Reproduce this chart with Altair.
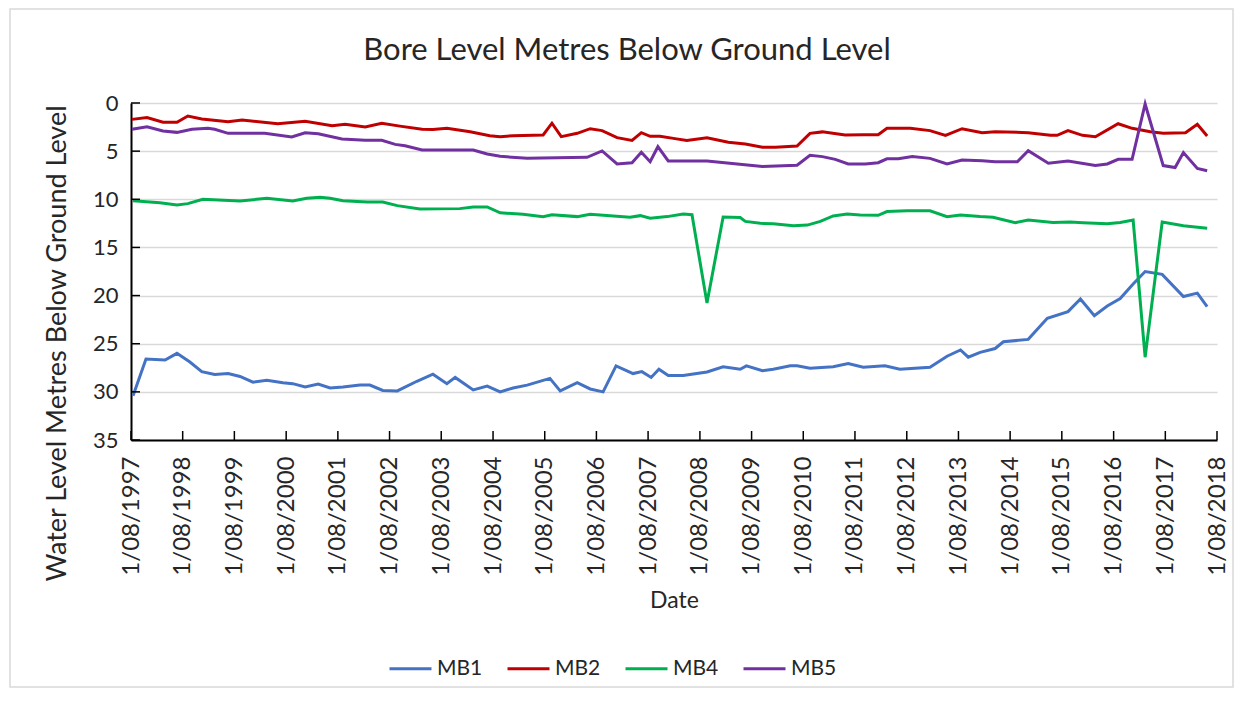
import altair as alt
import pandas as pd

# ---- data (decimal years, metres below ground level) ----
mb1_t = [1997.62, 1997.87, 1998.24, 1998.47, 1998.72, 1998.95, 1999.20, 1999.46, 1999.69, 1999.94,
         2000.21, 2000.52, 2000.71, 2000.95, 2001.20, 2001.43, 2001.68, 2002.01, 2002.20, 2002.45,
         2002.73, 2003.11, 2003.42, 2003.69, 2003.85, 2004.20, 2004.47, 2004.72, 2004.97, 2005.24,
         2005.68, 2005.88, 2006.21, 2006.46, 2006.71, 2006.96, 2007.29, 2007.46, 2007.64, 2007.79,
         2007.97, 2008.26, 2008.72, 2009.03, 2009.36, 2009.48, 2009.79, 2010.00, 2010.33, 2010.46,
         2010.71, 2011.16, 2011.45, 2011.74, 2012.16, 2012.45, 2013.03, 2013.36, 2013.62, 2013.77,
         2014.00, 2014.29, 2014.45, 2014.93, 2015.30, 2015.70, 2015.94, 2016.21, 2016.46, 2016.71,
         2016.96, 2017.19, 2017.52, 2017.93, 2018.20, 2018.39]
mb1_v = [30.4, 26.6, 26.7, 26.0, 26.9, 27.9, 28.2, 28.1, 28.4, 29.0,
         28.8, 29.05, 29.15, 29.5, 29.2, 29.6, 29.5, 29.3, 29.3, 29.85,
         29.9, 28.9, 28.17, 29.15, 28.5, 29.8, 29.4, 30.0, 29.6, 29.3,
         28.6, 29.9, 29.05, 29.7, 30.0, 27.3, 28.1, 27.9, 28.5, 27.65,
         28.3, 28.3, 27.93, 27.4, 27.65, 27.3, 27.8, 27.65, 27.3, 27.3,
         27.55, 27.4, 27.05, 27.45, 27.3, 27.65, 27.45, 26.3, 25.65, 26.4,
         25.9, 25.5, 24.8, 24.55, 22.36, 21.67, 20.35, 22.1, 21.08, 20.3,
         18.8, 17.5, 17.8, 20.1, 19.75, 21.15]

mb2_t = [1997.60, 1997.89, 1998.20, 1998.47, 1998.68, 1998.95, 1999.46, 1999.73, 2000.42, 2000.95,
         2001.47, 2001.72, 2002.11, 2002.43, 2002.78, 2003.21, 2003.42, 2003.69, 2004.14, 2004.52,
         2004.72, 2004.97, 2005.55, 2005.72, 2005.90, 2006.21, 2006.46, 2006.69, 2006.98, 2007.27,
         2007.45, 2007.62, 2007.81, 2008.10, 2008.33, 2008.72, 2009.13, 2009.46, 2009.79, 2010.04,
         2010.46, 2010.71, 2010.95, 2011.39, 2011.74, 2012.03, 2012.20, 2012.65, 2013.03, 2013.33,
         2013.65, 2014.04, 2014.29, 2014.93, 2015.36, 2015.49, 2015.70, 2015.98, 2016.23, 2016.67,
         2016.94, 2017.29, 2017.54, 2017.97, 2018.20, 2018.39]
mb2_v = [1.7, 1.5, 2.0, 2.0, 1.35, 1.66, 1.94, 1.77, 2.15, 1.9,
         2.35, 2.2, 2.5, 2.1, 2.4, 2.73, 2.75, 2.63, 2.98, 3.4,
         3.5, 3.4, 3.32, 2.1, 3.5, 3.15, 2.67, 2.87, 3.6, 3.88,
         3.08, 3.46, 3.46, 3.7, 3.9, 3.6, 4.08, 4.26, 4.6, 4.6,
         4.47, 3.15, 3.0, 3.32, 3.3, 3.3, 2.63, 2.63, 2.87, 3.36,
         2.67, 3.08, 2.98, 3.08, 3.36, 3.36, 2.87, 3.36, 3.5, 2.15,
         2.63, 2.98, 3.15, 3.08, 2.2, 3.43]

mb4_t = [1997.62, 1998.14, 1998.47, 1998.68, 1998.97, 1999.69, 2000.21, 2000.71, 2000.98, 2001.24,
         2001.43, 2001.68, 2002.15, 2002.45, 2002.73, 2003.17, 2003.94, 2004.20, 2004.47, 2004.72,
         2005.16, 2005.55, 2005.72, 2006.21, 2006.46, 2007.23, 2007.43, 2007.62, 2007.95, 2008.26,
         2008.43, 2008.72, 2009.03, 2009.36, 2009.46, 2009.75, 2010.00, 2010.39, 2010.66, 2010.91,
         2011.16, 2011.43, 2011.68, 2012.03, 2012.20, 2012.59, 2013.03, 2013.36, 2013.62, 2014.00,
         2014.25, 2014.68, 2014.93, 2015.41, 2015.74, 2015.99, 2016.46, 2016.71, 2016.96, 2017.19,
         2017.52, 2017.93, 2018.39]
mb4_v = [10.14, 10.35, 10.6, 10.45, 10.0, 10.18, 9.9, 10.18, 9.9, 9.8,
         9.9, 10.14, 10.28, 10.28, 10.66, 11.0, 10.97, 10.8, 10.8, 11.4,
         11.56, 11.8, 11.6, 11.8, 11.56, 11.87, 11.7, 11.97, 11.8, 11.53,
         11.6, 20.77, 11.84, 11.9, 12.3, 12.5, 12.55, 12.74, 12.68, 12.3,
         11.73, 11.53, 11.63, 11.66, 11.28, 11.2, 11.2, 11.8, 11.63, 11.8,
         11.87, 12.43, 12.16, 12.4, 12.36, 12.43, 12.55, 12.4, 12.16, 26.4,
         12.36, 12.74, 13.0]

mb5_t = [1997.60, 1997.89, 1998.20, 1998.47, 1998.76, 1999.07, 1999.20, 1999.46, 2000.17, 2000.69,
         2000.95, 2001.20, 2001.66, 2002.11, 2002.43, 2002.69, 2002.88, 2003.21, 2004.20, 2004.47,
         2004.72, 2005.24, 2006.40, 2006.69, 2006.98, 2007.27, 2007.45, 2007.62, 2007.77, 2007.97,
         2008.72, 2009.79, 2010.46, 2010.71, 2010.95, 2011.20, 2011.45, 2011.78, 2012.03, 2012.20,
         2012.42, 2012.69, 2013.03, 2013.36, 2013.65, 2014.04, 2014.29, 2014.72, 2014.93, 2015.32,
         2015.70, 2016.23, 2016.46, 2016.67, 2016.94, 2017.19, 2017.54, 2017.77, 2017.93, 2018.20,
         2018.39]
mb5_v = [2.73, 2.46, 2.9, 3.05, 2.73, 2.63, 2.73, 3.15, 3.15, 3.53,
         3.1, 3.2, 3.74, 3.88, 3.88, 4.3, 4.45, 4.88, 4.88, 5.3,
         5.54, 5.75, 5.64, 4.98, 6.33, 6.2, 5.12, 6.1, 4.54, 6.02,
         6.02, 6.6, 6.47, 5.43, 5.57, 5.85, 6.33, 6.33, 6.2, 5.8,
         5.8, 5.57, 5.75, 6.33, 5.92, 6.0, 6.1, 6.1, 4.95, 6.26,
         6.02, 6.5, 6.33, 5.85, 5.85, 0.1, 6.5, 6.7, 5.15, 6.8,
         7.03]

series_names = ["MB1", "MB2", "MB4", "MB5"]
series_colors = ["#4472C4", "#C00000", "#00B050", "#7030A0"]
tick_years = list(range(1997, 2019))
y_ticks = [0, 5, 10, 15, 20, 25, 30, 35]
chart_title = "Bore Level Metres Below Ground Level"

FONT = "Lato"
TXT = "#262626"


def to_iso(t):
    y = int(t)
    d = pd.Timestamp(year=y, month=1, day=1) + pd.Timedelta(days=(t - y) * 365.25)
    return d.strftime("%Y-%m-%dT%H:%M:%SZ")


rows = []
for name, ts, vs in zip(series_names, [mb1_t, mb2_t, mb4_t, mb5_t], [mb1_v, mb2_v, mb4_v, mb5_v]):
    for t, v in zip(ts, vs):
        rows.append({"date": to_iso(t), "level": v, "bore": name})
df = pd.DataFrame(rows)

W, H = 1086, 337

x_scale = alt.Scale(type="utc",
                    domain=[alt.DateTime(year=1997, month=8, date=1, utc=True),
                            alt.DateTime(year=2018, month=8, date=1, utc=True)])
y_scale = alt.Scale(domain=[0, 35], reverse=True, nice=False, zero=False)

x_axis = alt.Axis(
    values=[alt.DateTime(year=y, month=8, date=1, utc=True) for y in tick_years],
    labelExpr="utcFormat(datum.value, '%-d/%m/%Y')",
    labelAngle=-90, labelFontSize=24,
    labelFont=FONT, labelColor=TXT, labelPadding=16, ticks=False, grid=False,
    domainColor="#000000", domainWidth=2, title="Date", titleFont=FONT,
    titleFontSize=23, titleFontWeight="normal", titleColor=TXT,
    titleBaseline="middle", titleY=160, labelOverlap=False)
y_axis = alt.Axis(
    values=y_ticks, labelFontSize=22, labelFont=FONT, labelColor=TXT,
    labelPadding=13, ticks=False, grid=True, gridColor="#d9d9d9", gridWidth=1.5,
    domainColor="#000000", domainWidth=2,
    title="Water Level Metres Below Ground Level", titleFont=FONT,
    titleFontSize=27, titleFontWeight="normal", titleColor=TXT,
    titleAngle=270, titleAlign="center", titleBaseline="middle",
    titleX=-74, titleY=240)

lines = alt.Chart(df).mark_line(strokeWidth=3).encode(
    x=alt.X("date:T", scale=x_scale, axis=x_axis),
    y=alt.Y("level:Q", scale=y_scale, axis=y_axis),
    color=alt.Color("bore:N",
                    scale=alt.Scale(domain=series_names, range=series_colors),
                    legend=alt.Legend(orient="none", legendX=257, legendY=543,
                                      direction="horizontal", title=None,
                                      symbolType="stroke", symbolSize=1764,
                                      symbolStrokeWidth=3, labelFontSize=21,
                                      labelFont=FONT, labelColor=TXT,
                                      columnPadding=18, labelOffset=4)),
)

ytick_df = pd.DataFrame({"level": y_ticks})
yticks = alt.Chart(ytick_df).mark_rule(color="#000000", strokeWidth=1.5).encode(
    y=alt.Y("level:Q", scale=y_scale, axis=y_axis),
    x=alt.value(0), x2=alt.value(9))

xtick_df = pd.DataFrame({"date": [f"{y}-08-01T00:00:00Z" for y in tick_years]})
xticks = alt.Chart(xtick_df).mark_rule(color="#000000", strokeWidth=1.5).encode(
    x=alt.X("date:T", scale=x_scale, axis=x_axis),
    y=alt.value(H - 9), y2=alt.value(H))

border = alt.Chart(pd.DataFrame({"a": [0]})).mark_rect(
    fillOpacity=0, stroke="#d9d9d9", strokeWidth=1.5, clip=False).encode(
    x=alt.value(-121), x2=alt.value(1102), y=alt.value(-94), y2=alt.value(584))

title = alt.Chart(pd.DataFrame({"t": [chart_title]})).mark_text(
    font=FONT, fontSize=31, color=TXT, align="center", baseline="middle").encode(
    text="t:N", x=alt.value(496), y=alt.value(-52))

chart = alt.layer(border, title, lines, yticks, xticks).properties(
    width=W, height=H,
    padding={"left": 123, "top": 95, "right": 18, "bottom": 250},
    autosize=alt.AutoSizeParams(type="none"),
).configure_view(strokeWidth=0)

chart.save("out.html", embed_options={"renderer": "svg", "actions": False})
